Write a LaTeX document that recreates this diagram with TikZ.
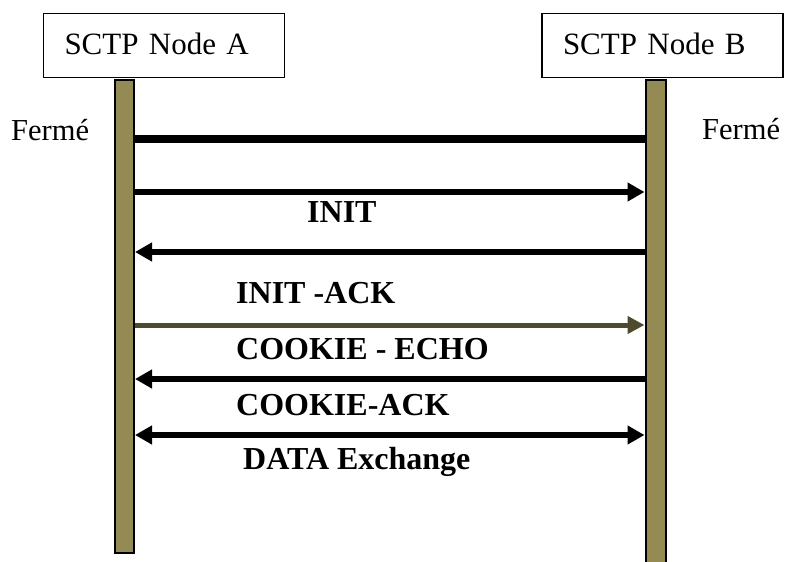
\documentclass[tikz,border=0pt]{standalone}
\usepackage{fontspec}
\setmainfont{Liberation Serif}
\usetikzlibrary{arrows.meta}

\definecolor{lifefill}{HTML}{948A54}
\definecolor{msgolive}{HTML}{4E4A2E}

\tikzset{
  msgtip/.tip={Triangle[length=17pt,width=18pt]},
  hdr/.style={draw=black, line width=1.2pt, fill=white,
    minimum width=241pt, minimum height=64pt,
    text width=199pt, inner xsep=21pt, align=left,
    text height=22pt, text depth=5pt,
    font=\fontsize{31}{37}\selectfont},
  lifeline/.style={draw=black, line width=2pt, fill=lifefill,
    minimum width=19pt, anchor=north, inner sep=0pt},
  state/.style={inner sep=0pt, font=\fontsize{30.5}{36}\selectfont},
  msglabel/.style={inner sep=0pt, anchor=base west,
    font=\fontsize{32}{38}\selectfont\bfseries},
  msg/.style={line width=6pt, draw=black},
  opening/.style={line width=8pt, draw=black}
}

\begin{document}
\begin{tikzpicture}[x=1pt,y=-1pt]
\useasboundingbox (0,0) rectangle (785,562);

% lifelines
\node[lifeline, minimum height=473pt] (lA) at (124.5,79) {};
\node[lifeline, minimum width=20pt, minimum height=500pt] (lB) at (655.5,79) {};

% endpoint headers
\node[hdr] (hA) at (164,45.5) {SCTP Node A};
\node[hdr] (hB) at (662.5,45.5) {SCTP Node B};

% states
\node[state, anchor=base west] (fA) at (11,140) {Fermé};
\node[state, anchor=base west] (fB) at (702,139) {Fermé};

% message rows
\coordinate (r0) at (0,139);
\coordinate (r1) at (0,192);
\coordinate (r2) at (0,252);
\coordinate (r3) at (0,325);
\coordinate (r4) at (0,379);
\coordinate (r5) at (0,435);

\draw[opening] (lA.east |- r0) -- (lB.west |- r0);
\draw[msg, -msgtip] (lA.east |- r1) -- (lB.west |- r1);
\draw[msg, -msgtip] (lB.west |- r2) -- (lA.east |- r2);
\draw[msg, draw=msgolive, line width=5pt, -{Triangle[length=17pt,width=17pt]}]
  (lA.east |- r3) -- (lB.west |- r3);
\draw[msg, -msgtip] (lB.west |- r4) -- (lA.east |- r4);
\draw[msg, msgtip-msgtip] (lA.east |- r5) -- (lB.west |- r5);

% message labels
\node[msglabel] (t1) at (307,222) {INIT};
\node[msglabel] (t2) at (236,303) {INIT -ACK};
\node[msglabel] (t3) at (236,359) {COOKIE - ECHO};
\node[msglabel] (t4) at (236,415) {COOKIE-ACK};
\node[msglabel] (t5) at (243,469) {DATA Exchange};
\end{tikzpicture}
\end{document}
